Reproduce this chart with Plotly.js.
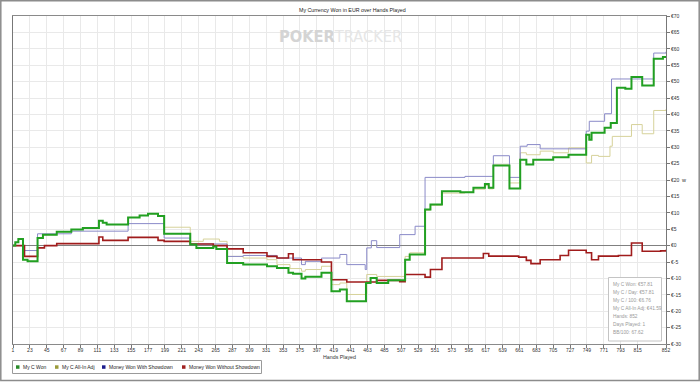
<!DOCTYPE html>
<html><head><meta charset="utf-8">
<script src="https://cdn.plot.ly/plotly-3.0.1.min.js"></script>
<style>html,body{margin:0;padding:0;background:#fff;}#chart{width:700px;height:382px;}</style>
</head><body><div id="chart"></div>
<script>
// ---- data ----
const wonHands = [1,4,8,14,20,33,40,58,77,92,113,118,123,151,166,177,190,198,232,240,262,266,280,301,332,345,360,366,377,382,403,416,427,436,461,467,475,490,512,518,538,545,560,584,601,616,621,627,648,662,670,679,705,725,748,752,755,772,780,788,799,807,821,836,848,852];
const wonValues = [0,1,2,-4.3,-4.8,2.3,3.3,4.2,4.9,5.4,7.6,7,6.4,8.6,9.2,9.7,9.0,3.6,0.3,-0.7,-0.3,-1.0,-5.3,-5.8,-6.3,-6.8,-8.3,-8.6,-10,-9.5,-8.3,-13.9,-13.4,-17,-11.4,-9.9,-11.4,-10.6,-4.3,-2.7,11,12.5,16.6,16.3,17.6,18.8,17.6,24.4,17.4,26.2,24.7,26.2,26.9,27.7,33.8,32.3,34.4,35.9,37.4,48.1,47.8,51.4,48.8,57,57.5,57.81];

const adjHands = [1,4,8,14,20,33,40,58,77,92,113,118,123,151,166,177,190,198,232,249,270,280,301,332,345,362,377,382,403,416,427,436,462,475,512,518,538,545,560,590,601,616,621,627,648,662,670,688,705,725,748,755,764,779,782,807,821,836,852];
const adjValues = [0,1,2,-4.3,-4.8,2.3,3.3,4.2,4.9,5.4,7.6,7,6.4,8.6,9.2,9.7,9.0,5.6,1.3,2.0,1.3,-3.3,-3.8,-4.3,-5.8,-7,-7.8,-7.3,-6.3,-11.9,-11.4,-14.9,-8.8,-9.4,-3.3,-2.2,10.8,12.3,16,16.3,17.2,18.3,17.3,24.6,19.1,28.3,27.7,28.8,28.3,29.8,25.2,27.5,27.2,30.3,33.3,36.9,34.1,41.2,41.59];

const sdHands = [1,16,33,77,151,198,232,280,301,345,377,382,403,427,436,460,462,468,475,505,525,538,590,627,648,662,671,688,748,752,772,781,836,852];
const sdValues = [0,-1.5,3.6,4.4,6.7,2.3,0.5,-3.3,-3.0,-3.8,-5.8,-4.8,-3.8,-2.7,-5.8,-7.3,-0.7,1.5,-0.6,3.35,5.9,20.8,21.1,27.4,20.8,30.3,30.8,29.5,34.9,37.9,40.2,50.8,58.7,59.1];

const nsdHands = [1,16,33,42,58,113,118,151,190,198,232,262,280,301,332,345,360,366,403,416,436,475,505,512,538,545,560,614,621,660,670,676,688,714,725,748,755,764,790,807,821,845,852];
const nsdValues = [0,-3.3,-0.7,0,0.6,2.6,1.6,2.5,1.6,1.3,0.5,0,-1,-2.2,-3.3,-3.8,-2.5,-4.3,-5,-10.4,-11.1,-10.6,-11,-8.8,-9.6,-7.3,-3.8,-2.4,-3.2,-3.5,-4.5,-5.5,-4.3,-3.0,-1.4,-2.2,-4.3,-3.2,-3.0,0.8,-1.7,-1.6,-1.3];

const xTicks = [1,23,45,67,89,111,133,155,177,199,221,243,265,287,309,331,353,375,397,419,441,463,485,507,529,551,573,595,617,639,661,683,705,727,749,771,793,815,852];
const yTicks = [70,65,60,55,50,45,40,35,30,25,20,15,10,5,0,-5,-10,-15,-20,-25,-30];
const yTickText = yTicks.map(v => '€' + v);

const seriesNames = ['My C Won','My C All-In Adj','Money Won With Showdown','Money Won Without Showdown'];
const legendColors = ['#2a8a2a','#9b9b3b','#1c1c8c','#a02020'];
const statsLines = ['My C Won: €57.81','My C / Day: €57.81','My C / 100: €6.76','My C All-In Adj: €41.59','Hands: 852','Days Played: 1','BB/100: 67.62'];

// ---- layout helpers (pixel -> paper) ----
const L = 13, R = 666, T = 16, B = 344;
const px = x => (x - L) / (R - L);
const py = y => (B - y) / (B - T);
const FONT = 'Liberation Sans, Arial, sans-serif';

const traces = [
  {x: adjHands, y: adjValues, name: seriesNames[1], line: {color: '#d6d29a', width: 1, shape: 'hv'}},
  {x: sdHands, y: sdValues, name: seriesNames[2], line: {color: '#8a8ac8', width: 1, shape: 'hv'}},
  {x: nsdHands, y: nsdValues, name: seriesNames[3], line: {color: '#a01c1c', width: 1.6, shape: 'hv'}},
  {x: wonHands, y: wonValues, name: seriesNames[0], line: {color: '#22a022', width: 2, shape: 'hv'}}
].map(t => Object.assign(t, {type: 'scatter', mode: 'lines', showlegend: false, hoverinfo: 'skip'}));

const shapes = [
  {type: 'rect', xref: 'paper', yref: 'paper', x0: px(0.8), x1: px(699.2), y0: py(380.5), y1: py(0.8), line: {color: '#8c8c8c', width: 1.5}},
  {type: 'rect', xref: 'paper', yref: 'paper', x0: px(12.5), x1: px(261.5), y0: py(373.5), y1: py(360.5), line: {color: '#9a9a9a', width: 1}, fillcolor: '#fff'},
  {type: 'rect', xref: 'paper', yref: 'paper', x0: px(608.5), x1: px(661.5), y0: py(341), y1: py(277.5), line: {color: '#c4c4c4', width: 1}, fillcolor: '#fff', layer: 'above'}
];
const annotations = [
  {text: 'My Currency Won in EUR over Hands Played', x: px(352), y: py(10), xanchor: 'center', yanchor: 'middle', font: {size: 5.3, color: '#222'}},
  {text: '<b><span style="color:#d4d4d4">POKER</span></b><span style="color:#e6e6e6">TRACKER</span>', x: px(277), y: py(37), xanchor: 'left', yanchor: 'middle', font: {size: 16.3, color: '#dddddd', family: 'Liberation Sans Narrow, DejaVu Sans Condensed, Liberation Sans, Arial'}},
  {text: 'Hands Played', x: px(339), y: py(357), xanchor: 'center', yanchor: 'middle', font: {size: 5.3, color: '#333'}},
  {text: 'w', x: px(683), y: py(180), xanchor: 'center', yanchor: 'middle', font: {size: 5.5, color: '#333'}}
];
const legendX = [16, 55, 102, 182];
seriesNames.forEach((n, i) => {
  shapes.push({type: 'rect', xref: 'paper', yref: 'paper', x0: px(legendX[i]), x1: px(legendX[i] + 3.5), y0: py(368.8), y1: py(365.3), line: {width: 0}, fillcolor: legendColors[i]});
  annotations.push({text: n, x: px(legendX[i] + 5), y: py(367), xanchor: 'left', yanchor: 'middle', font: {size: 5, color: '#222'}});
});
statsLines.forEach((s, i) => {
  annotations.push({text: s, x: px(610.5), y: py(284 + i * 8.1), xanchor: 'left', yanchor: 'middle', font: {size: 4.8, color: '#9a9a9a'}});
});
annotations.forEach(a => { a.xref = 'paper'; a.yref = 'paper'; a.showarrow = false; a.font.family = a.font.family || FONT; });

const layout = {
  width: 700, height: 382,
  margin: {l: L, r: 700 - R, t: T, b: 382 - B, pad: 0},
  paper_bgcolor: '#fff', plot_bgcolor: '#fff',
  font: {family: FONT, size: 5, color: '#333'},
  showlegend: false,
  xaxis: {range: [1, 852], tickvals: xTicks, ticktext: xTicks.map(String), ticks: 'outside', ticklen: 3, tickcolor: '#777', tickwidth: 1,
    ticklabelstandoff: -2,
    showgrid: true, gridcolor: '#e9e9e9', gridwidth: 1, showline: true, linecolor: '#8a8a8a', linewidth: 1, mirror: true, zeroline: false,
    tickfont: {size: 5, color: '#333'}, fixedrange: true},
  yaxis: {range: [-30, 70], side: 'right', tickvals: yTicks, ticktext: yTickText, ticks: 'outside', ticklen: 3, tickcolor: '#777',
    showgrid: true, gridcolor: '#e9e9e9', gridwidth: 1, showline: true, linecolor: '#777', linewidth: 1, mirror: true,
    zeroline: true, zerolinecolor: '#808080', zerolinewidth: 1, tickfont: {size: 5, color: '#333'}, fixedrange: true},
  shapes: shapes, annotations: annotations
};
Plotly.newPlot('chart', traces, layout, {staticPlot: true, displayModeBar: false});
</script></body></html>
